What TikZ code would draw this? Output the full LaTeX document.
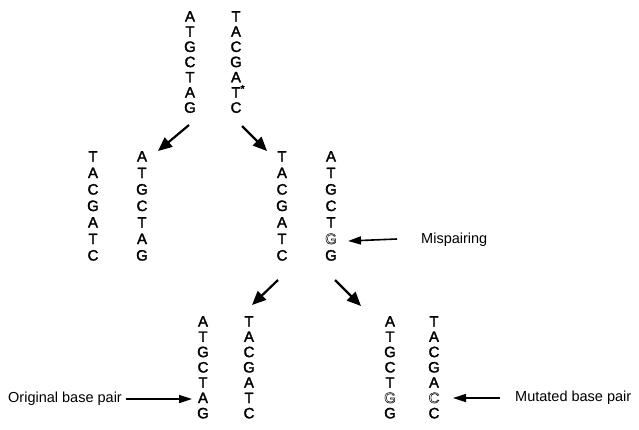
\documentclass[tikz,border=0pt]{standalone}
\usepackage{fontspec}
\setmainfont{Liberation Sans}
\usetikzlibrary{arrows.meta}
% heavier glyphs (fill + stroke) and outlined glyphs (stroke only)
\newcommand\heavy{\special{pdf:literal direct 2 Tr 0.3 w}}
\newcommand\plain{\special{pdf:literal direct 0 Tr}}
\newcommand\hollow[1]{\special{pdf:literal direct 1 Tr 0.5 w}#1\special{pdf:literal direct 2 Tr 0.3 w}}
\begin{document}
\begin{tikzpicture}[x=1pt,y=-1pt,
  strand/.style={anchor=north, inner sep=0pt, align=center, font=\fontsize{15}{#1}\selectfont},
  tag/.style={anchor=west, inner sep=0pt, font=\fontsize{14.5}{16}\selectfont},
  bigarrow/.style={line width=2.2pt, -{Triangle[length=14pt,width=12pt]}},
  pointer/.style={line width=1.6pt, -{Triangle[length=13pt,width=8pt]}}]
\useasboundingbox (0,0) rectangle (639,429);

% parent duplex
\node[strand=15.2] (p0a) at (190,11) {\heavy A\\T\\G\\C\\T\\A\\G\plain};
\node[strand=15.2] (p0b) at (236,11) {\heavy T\\A\\C\\G\\A\\T\rlap{\textsuperscript{*}}\\C\plain};

% first generation
\node[strand=16.5] (p1a) at (93,151) {\heavy T\\A\\C\\G\\A\\T\\C\plain};
\node[strand=16.5] (p1b) at (142,151) {\heavy A\\T\\G\\C\\T\\A\\G\plain};
\node[strand=16.5] (p2a) at (282,151) {\heavy T\\A\\C\\G\\A\\T\\C\plain};
\node[strand=16.5] (p2b) at (331,151) {\heavy A\\T\\G\\C\\T\\\hollow{G}\\G\plain};

% second generation
\node[strand=15.3] (p3a) at (203,316) {\heavy A\\T\\G\\C\\T\\A\\G\plain};
\node[strand=15.3] (p3b) at (249,316) {\heavy T\\A\\C\\G\\A\\T\\C\plain};
\node[strand=15.3] (p4a) at (390,316) {\heavy A\\T\\G\\C\\T\\\hollow{G}\\G\plain};
\node[strand=15.3] (p4b) at (434,316) {\heavy T\\A\\C\\G\\A\\\hollow{C}\\C\plain};

% replication arrows
\coordinate (a1s) at (189,125); \coordinate (a1e) at (158,151);
\coordinate (a2s) at (242,126); \coordinate (a2e) at (267,151);
\coordinate (a3s) at (278,280); \coordinate (a3e) at (252,305);
\coordinate (a4s) at (335,280); \coordinate (a4e) at (361,306);
\draw[bigarrow] (a1s) -- (a1e);
\draw[bigarrow] (a2s) -- (a2e);
\draw[bigarrow] (a3s) -- (a3e);
\draw[bigarrow] (a4s) -- (a4e);

% labels
\node[tag] (mis) at (421,240) {Mispairing};
\coordinate (mist) at (348,241);
\draw[pointer] ([xshift=-24pt,yshift=1pt]mis.west) -- (mist);

\node[tag] (orig) at (8,399) {Original base pair};
\coordinate (origt) at (192,399);
\draw[pointer] ([xshift=4pt]orig.east) -- (origt);

\node[tag] (mut) at (515,398) {Mutated base pair};
\coordinate (mutt) at (453,398);
\draw[pointer] ([xshift=-15pt]mut.west) -- (mutt);
\end{tikzpicture}
\end{document}
